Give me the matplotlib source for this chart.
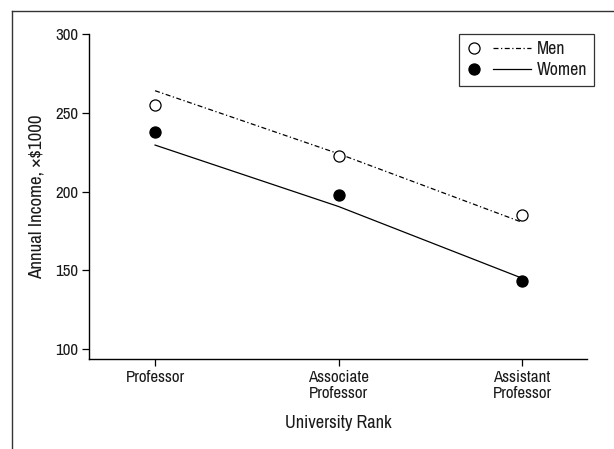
import matplotlib
matplotlib.use("Agg")
import matplotlib.pyplot as plt
from matplotlib.lines import Line2D
from matplotlib.legend_handler import HandlerBase

plt.rcParams['font.family'] = ['Archivo Narrow', 'DejaVu Sans']

ranks = ["Professor", "Associate\nProfessor", "Assistant\nProfessor"]
men_observed = [255.2, 222.5, 185.3]
women_observed = [237.7, 197.8, 143.2]
men_predicted = [264.0, 224.0, 180.5]
women_predicted = [229.5, 190.5, 145.0]
y_ticks = [100, 150, 200, 250, 300]

TEXT = "#1a1a1a"
DASHDOT = (0, (4, 2, 1, 2))

fig = plt.figure(figsize=(6.14, 4.49), dpi=100)
ax = fig.add_axes([89 / 614, 1 - 359 / 449, (587 - 89) / 614, (359 - 34) / 449])

x = list(range(len(ranks)))
ax.plot(x, men_predicted, color="black", lw=0.9, linestyle=DASHDOT)
ax.plot(x, women_predicted, color="black", lw=0.9, linestyle="-")
ax.plot(x, men_observed, linestyle="none", marker="o", ms=8,
        mfc="white", mec="black", mew=0.9)
ax.plot(x, women_observed, linestyle="none", marker="o", ms=8,
        mfc="black", mec="black", mew=0.9)

ax.set_xlim(-0.36, 2.354)
ax.set_ylim(93.7, 300)
ax.set_xticks(x)
ax.set_xticklabels(ranks, fontsize=12.2, color=TEXT, linespacing=1.05)
ax.set_yticks(y_ticks)
ax.set_yticklabels([str(v) for v in y_ticks], fontsize=12.2, color=TEXT)
ax.tick_params(axis="both", length=5, width=0.9, pad=3, color="black")
for side in ("top", "right"):
    ax.spines[side].set_visible(False)
for side in ("left", "bottom"):
    ax.spines[side].set_linewidth(1.0)

ax.set_xlabel("University Rank", fontsize=13.2, color=TEXT, va="center")
ax.xaxis.set_label_coords(0.5, (359 - 423) / 325)
ax.set_ylabel("Annual Income, \u00d7$1000", fontsize=13.6, color=TEXT, va="center")
ax.yaxis.set_label_coords((37 - 89) / 498, 0.5)


class MarkerThenLine(HandlerBase):
    """Circle at the left of the handle box, followed by a line segment."""

    def __init__(self, dashes):
        super().__init__()
        self.dashes = dashes

    def create_artists(self, legend, orig_handle, xdescent, ydescent,
                       width, height, fontsize, trans):
        marker, line = orig_handle
        y = height / 2 - ydescent
        m = Line2D([-xdescent + 6], [y], linestyle="none", marker="o",
                   ms=marker.get_markersize(), mfc=marker.get_markerfacecolor(),
                   mec=marker.get_markeredgecolor(), mew=marker.get_markeredgewidth())
        style = self.dashes.get(id(orig_handle), "-")
        ln = Line2D([-xdescent + 19, -xdescent + width], [y, y],
                    color=line.get_color(), lw=line.get_linewidth(), linestyle=style)
        for a in (m, ln):
            a.set_transform(trans)
        return [m, ln]


men_handle = (Line2D([], [], marker="o", ms=8, mfc="white", mec="black", mew=0.9),
              Line2D([], [], color="black", lw=0.9))
women_handle = (Line2D([], [], marker="o", ms=8, mfc="black", mec="black", mew=0.9),
                Line2D([], [], color="black", lw=0.9))
handler = MarkerThenLine({id(men_handle): DASHDOT, id(women_handle): "-"})

leg = ax.legend([men_handle, women_handle], ["Men", "Women"],
                handler_map={tuple: handler},
                loc="upper right", bbox_to_anchor=((594 - 89) / 498, 1.0),
                fontsize=12.8, frameon=True, fancybox=False, edgecolor="black",
                handlelength=3.65, handletextpad=0.3, borderpad=0.4,
                labelspacing=0.3, borderaxespad=0.0)
leg.get_frame().set_linewidth(0.9)
for t in leg.get_texts():
    t.set_color(TEXT)

# page frame lines at top and left
fig.add_artist(Line2D([12 / 614, 12 / 614], [0, 1 - 11 / 449], color="#333333", lw=1.0))
fig.add_artist(Line2D([12 / 614, 1], [1 - 11 / 449, 1 - 11 / 449], color="#333333", lw=1.0))

fig.savefig("out.png", dpi=100)
